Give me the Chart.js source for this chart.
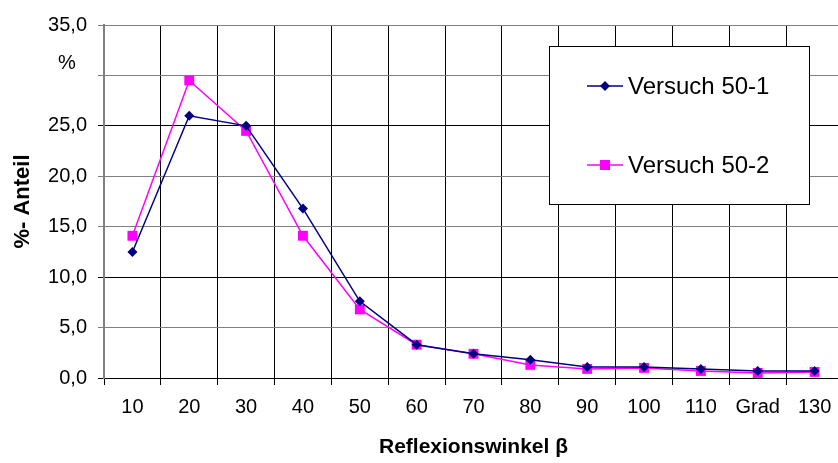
<!DOCTYPE html>
<html>
<head>
<meta charset="utf-8">
<script src="https://cdn.jsdelivr.net/npm/chart.js@4/dist/chart.umd.min.js"></script>
<style>
  html, body { margin: 0; padding: 0; background: #fff; overflow: hidden; }
</style>
</head>
<body>
<canvas id="myChart" width="850" height="463"></canvas>
<script>
// Reflexionswinkel categories (one label reads "Grad" in the original)
var winkel = ['10', '20', '30', '40', '50', '60', '70', '80', '90', '100', '110', 'Grad', '130'];
var versuch1 = [12.5, 26.0, 25.0, 16.8, 7.6, 3.3, 2.4, 1.8, 1.1, 1.1, 0.9, 0.7, 0.7];
var versuch2 = [14.1, 29.5, 24.5, 14.1, 6.8, 3.3, 2.4, 1.3, 0.9, 1.0, 0.7, 0.5, 0.6];
var seriesNames = ['Versuch 50-1', 'Versuch 50-2'];
var yTicks = [0, 5, 10, 15, 20, 25, 30, 35];

var FONT = '"Liberation Sans", Arial, sans-serif';

// legend box drawn inside the plot, like the original
var boxLegend = {
    id: 'boxLegend',
    afterDraw: function(chart) {
        var ctx = chart.ctx;
        var a = chart.chartArea;
        var x = a.left + 445, y = a.top + 21, w = 260, h = 158;
        ctx.save();
        ctx.fillStyle = '#fff';
        ctx.fillRect(x, y, w, h);
        ctx.strokeStyle = '#000';
        ctx.lineWidth = 1;
        ctx.strokeRect(x + 0.5, y + 0.5, w, h);
        ctx.font = '24px ' + FONT;
        ctx.textBaseline = 'middle';
        chart.data.datasets.forEach(function(ds, i) {
            var cy = y + 40 + i * 79;
            ctx.strokeStyle = ds.borderColor;
            ctx.lineWidth = 1.5;
            ctx.beginPath();
            ctx.moveTo(x + 38, cy);
            ctx.lineTo(x + 74, cy);
            ctx.stroke();
            ctx.fillStyle = ds.pointBackgroundColor;
            ctx.beginPath();
            if (ds.pointStyle === 'rect') {
                ctx.fillRect(x + 51, cy - 5, 10, 10);
            } else {
                ctx.moveTo(x + 56, cy - 5);
                ctx.lineTo(x + 61, cy);
                ctx.lineTo(x + 56, cy + 5);
                ctx.lineTo(x + 51, cy);
                ctx.closePath();
                ctx.fill();
            }
            ctx.fillStyle = '#000';
            ctx.fillText(ds.label, x + 79, cy + 1);
        });
        ctx.restore();
    }
};

var ctx = document.getElementById('myChart').getContext('2d');
var myChart = new Chart(ctx, {
    type: 'line',
    data: {
        labels: winkel,
        datasets: [{
            label: seriesNames[0],
            data: versuch1,
            borderColor: '#000080',
            backgroundColor: '#000080',
            pointBackgroundColor: '#000080',
            pointBorderColor: '#000080',
            pointStyle: 'rectRot',
            pointRadius: 5,
            pointBorderWidth: 0,
            borderWidth: 1.5,
            tension: 0
        }, {
            label: seriesNames[1],
            data: versuch2,
            borderColor: '#FF00FF',
            backgroundColor: '#FF00FF',
            pointBackgroundColor: '#FF00FF',
            pointBorderColor: '#FF00FF',
            pointStyle: 'rect',
            pointRadius: 7,
            pointBorderWidth: 0,
            borderWidth: 1.5,
            tension: 0
        }]
    },
    options: {
        responsive: false,
        animation: false,
        layout: { padding: { top: 25, left: 0, right: 5, bottom: 0 } },
        plugins: {
            legend: { display: false },
            tooltip: { enabled: false }
        },
        scales: {
            x: {
                offset: true,
                grid: { offset: true, color: '#000', tickLength: 7, lineWidth: 1 },
                border: { color: '#000', width: 1 },
                ticks: {
                    color: '#000',
                    padding: 10,
                    maxRotation: 0,
                    autoSkip: false,
                    font: { family: FONT, size: 20 }
                },
                title: {
                    display: true,
                    text: 'Reflexionswinkel β',
                    color: '#000',
                    padding: { top: 0, bottom: 3 },
                    font: { family: FONT, size: 21, weight: 'bold' }
                },
                afterFit: function(scale) { scale.height = 85; }
            },
            y: {
                min: 0,
                max: 35,
                afterBuildTicks: function(scale) {
                    scale.ticks = yTicks.map(function(v) { return { value: v }; });
                },
                grid: {
                    tickLength: 6,
                    color: function(c) {
                        var v = c.tick ? c.tick.value : 0;
                        return (v === 25 || v === 10 || v === 0) ? '#000' : '#808080';
                    }
                },
                border: { color: '#808080', width: 2 },
                ticks: {
                    color: '#000',
                    padding: 11,
                    autoSkip: false,
                    font: { family: FONT, size: 20 },
                    callback: function(v) {
                        if (v === 30) return ['%  ', ' '];
                        return v.toFixed(1).replace('.', ',');
                    }
                },
                title: {
                    display: true,
                    text: '%- Anteil',
                    color: '#000',
                    padding: { top: 10, bottom: 0 },
                    font: { family: FONT, size: 22, weight: 'bold' }
                },
                afterFit: function(scale) { scale.width = 104; }
            }
        }
    },
    plugins: [boxLegend]
});
</script>
</body>
</html>
